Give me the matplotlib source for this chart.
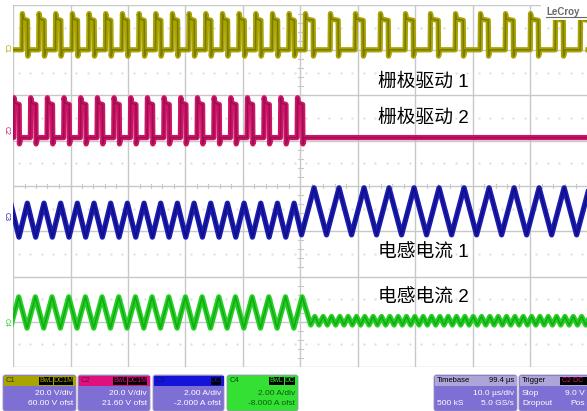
import matplotlib
matplotlib.use("Agg")
import matplotlib.pyplot as plt
from matplotlib.patches import FancyBboxPatch, Rectangle
import numpy as np

# ---------------- data ----------------
# time axis: 10 div x 10 us, vertical: 8 divisions (0 bottom .. 8 top)
t_total = 100.0
t_change = 50.0

# gate drive 1 (C1): [before, after]
c1_period = [2.90, 4.35]
c1_width = [0.95, 1.40]
c1_first = [1.57, 50.80]
c1_low, c1_high = 7.01, 7.69

# gate drive 2 (C2): pulses only before the change
c2_period = 2.90
c2_width = 0.95
c2_first = 0.12
c2_last = 49.42
c2_low, c2_high = 5.07, 5.83

# inductor current 1 (C3)
c3_peak_first = [-0.41, 52.35]
c3_period = [2.90, 4.35]
c3_peak = [3.62, 3.96]
c3_trough = [2.87, 2.92]

# inductor current 2 (C4)
c4_peak_first = 0.99
c4_last_peak = 50.29
c4_period = [2.90, 1.45]
c4_peak = [1.55, 1.116]
c4_trough = [0.86, 0.928]

labels = ["栅极驱动 1", "栅极驱动 2", "电感电流 1", "电感电流 2"]
label_y = [82, 118, 253, 298]          # pixel rows of the labels

colors = {"C1": "#a8a400", "C2": "#cf1468", "C3": "#1c1cb4", "C4": "#25d025"}

# ---------------- helpers ----------------
def pulses(starts, width, low, high, end, overshoot=0.12, dip=0.14):
    xs, ys = [0.0], [low]
    for r in starts:
        xs += [r, r + 0.06, r + 0.22, r + width, r + width + 0.05, r + width + 0.3]
        ys += [low, high + overshoot, high, high - 0.03, low - dip, low]
    xs.append(end); ys.append(low)
    return np.array(xs), np.array(ys)

def arange_list(first, period, stop):
    out = []
    v = first
    while v <= stop + 1e-9:
        out.append(v)
        v += period
    return out

# C1
c1_starts = arange_list(c1_first[0], c1_period[0], t_change) + \
            arange_list(c1_first[1], c1_period[1], t_total)
xs, ys = [0.0], [c1_low]
for r in c1_starts:
    w = c1_width[0] if r < t_change else c1_width[1]
    px, py = pulses([r], w, c1_low, c1_high, r + w + 0.3)
    xs += list(px[1:-1]); ys += list(py[1:-1])
xs.append(t_total); ys.append(c1_low)
c1x, c1y = np.array(xs), np.array(ys)

# C2
c2_starts = arange_list(c2_first, c2_period, c2_last)
c2x, c2y = pulses(c2_starts, c2_width, c2_low, c2_high, t_total)

# C3 triangle
c3x, c3y = [], []
for p in arange_list(c3_peak_first[0], c3_period[0], t_change):
    c3x += [p, p + c3_period[0] / 2]
    c3y += [c3_peak[0], c3_trough[0]]
c3x[-1] = c3_peak_first[1] - c3_period[1] / 2
c3y[-1] = c3_trough[1]
for p in arange_list(c3_peak_first[1], c3_period[1], t_total + 3):
    c3x += [p, p + c3_period[1] / 2]
    c3y += [c3_peak[1], c3_trough[1]]
c3x, c3y = np.array(c3x), np.array(c3y)

# C4 triangle then small ripple
c4x, c4y = [], []
for p in arange_list(c4_peak_first - c4_period[0], c4_period[0], c4_last_peak):
    c4x += [p, p + c4_period[0] / 2]
    c4y += [c4_peak[0], c4_trough[0]]
c4x[-1] = c4_last_peak + 1.5
c4y[-1] = c4_trough[1]
for p in arange_list(c4_last_peak + 2.2, c4_period[1], t_total + 2):
    c4x += [p, p + c4_period[1] / 2]
    c4y += [c4_peak[1], c4_trough[1]]
c4x, c4y = np.array(c4x), np.array(c4y)

# ---------------- figure ----------------
W, H = 587, 411
fig = plt.figure(figsize=(W / 100, H / 100), dpi=100)
fig.patch.set_facecolor("white")

x0, x1, y0, y1 = 13, 588, 5, 367
ax = fig.add_axes([x0 / W, 1 - y1 / H, (x1 - x0) / W, (y1 - y0) / H])
ax.set_xlim(0, t_total)
ax.set_ylim(0, 8)
ax.set_facecolor("white")
for s in ax.spines.values():
    s.set_visible(False)
ax.set_xticks([]); ax.set_yticks([])

grid_c = "#c8c8c8"
for gx in np.arange(0, 101, 10):
    ax.axvline(gx, color=grid_c, lw=1.0, zorder=1)
for gy in np.arange(0, 9, 1):
    ax.axhline(gy, color=grid_c, lw=1.0, zorder=1)
# minor ticks on the centre axes
for mx in np.arange(0, 100, 2):
    ax.plot([mx, mx], [3.95, 4.05], color=grid_c, lw=0.8, zorder=1)
for my in np.arange(0, 8, 0.2):
    ax.plot([49.6, 50.4], [my, my], color=grid_c, lw=0.8, zorder=1)
# faint dotted rows
for gy in np.arange(0.5, 8, 1):
    ax.plot(np.arange(1, 100, 2), np.full(50, gy), ls="none", marker=".",
            ms=1.2, color="#dcdcdc", zorder=1)

def trace(x, y, col, dark):
    ax.plot(x, y, color=col, lw=3.8, solid_joinstyle="round", zorder=3)
    ax.plot(x, y, color=dark, lw=1.1, zorder=4, alpha=0.75)

trace(c1x, c1y, colors["C1"], "#6e6a00")
trace(c2x, c2y, colors["C2"], "#8c0c48")
trace(c3x, c3y, colors["C3"], "#0a0a70")
trace(c4x, c4y, colors["C4"], "#129a12")

# text labels
for lab, py in zip(labels, label_y):
    ax.text((378 - x0) / (x1 - x0) * t_total, 8 - (py - y0) / (y1 - y0) * 8, lab,
            fontsize=13.5, family=["Liberation Sans", "Noto Sans CJK SC"],
            va="center", ha="left", color="black", zorder=6)

# ---------------- overlay in pixel coordinates ----------------
ov = fig.add_axes([0, 0, 1, 1])
ov.set_xlim(0, W); ov.set_ylim(H, 0)
ov.axis("off")
ov.patch.set_alpha(0)

# LeCroy logo
ov.add_patch(Rectangle((541, 5), 46, 15, facecolor="white", edgecolor="none", zorder=5))
ov.text(546, 12, "LeCroy", fontsize=7, color="#6a6a6a", fontweight="bold",
        va="center", ha="left", family="Liberation Sans", zorder=6)
ov.plot([546, 587], [17.5, 17.5], color="#6a6a6a", lw=0.8, zorder=6)

# channel markers at left edge
for name, py in [("C1", 48), ("C2", 130), ("C3", 216), ("C4", 322)]:
    ov.text(6, py, name, rotation=-90, fontsize=5, color=colors[name],
            va="center", ha="center", family="Liberation Sans")

purple = "#7d6fd3"
fam = "Liberation Sans"

def panel(xa, xb, head_col, head_txt, head_txt_col, badges, lines, body_col=purple,
          body_txt_col="white", badge_txt_col=None):
    ya, yb, yh = 375, 411, 385
    ov.add_patch(FancyBboxPatch((xa, ya), xb - xa, yb - ya,
                                boxstyle="round,pad=0,rounding_size=2.5",
                                facecolor=body_col, edgecolor="#9a94b8", lw=0.6))
    ov.add_patch(Rectangle((xa + 0.5, ya + 0.5), xb - xa - 1, yh - ya,
                           facecolor=head_col, edgecolor="none"))
    ov.text(xa + 3, ya + 5.5, head_txt, fontsize=5.5, color=head_txt_col,
            va="center", ha="left", family=fam)
    bx = xb - 3
    for b in reversed(badges):
        wb = 4.2 * len(b) + 2
        ov.add_patch(Rectangle((bx - wb, ya + 1.5), wb, 8, facecolor="black",
                               edgecolor="none"))
        ov.text(bx - wb / 2, ya + 5.5, b, fontsize=5, color=badge_txt_col or head_col,
                va="center", ha="center", family=fam)
        bx -= wb + 1
    for i, ln in enumerate(lines):
        if isinstance(ln, tuple):
            ov.text(xa + 3, 393 + 10 * i, ln[0], fontsize=6, color=body_txt_col,
                    va="center", ha="left", family=fam)
            ov.text(xb - 3, 393 + 10 * i, ln[1], fontsize=6, color=body_txt_col,
                    va="center", ha="right", family=fam)
        else:
            ov.text(xb - 3, 393 + 10 * i, ln, fontsize=6, color=body_txt_col,
                    va="center", ha="right", family=fam)

panel(3, 76, colors["C1"], "C1", "#3a3800", ["BwL", "DC1M"],
      ["20.0 V/div", "60.00 V ofst"])
panel(78, 150, "#e0107c", "C2", "#70083c", ["BwL", "DC1M"],
      ["20.0 V/div", "21.60 V ofst"])
panel(153, 224, "#1414d8", "C3", "#0c0c80", ["DC"],
      ["2.00 A/div", "-2.000 A ofst"], badge_txt_col="#1414d8")
panel(227, 298, "#33e033", "C4", "#0a4a0a", ["BwL", "DC"],
      ["2.00 A/div", "-8.000 A ofst"], body_col="#33e033", body_txt_col="#0d5a0d")
panel(434, 517, "#aca6d8", "Timebase", "black", [],
      [("", "10.0 µs/div"), ("500 kS", "5.0 GS/s")])
ov.text(514, 380.5, "99.4 µs", fontsize=5.5, color="black", va="center", ha="right",
        family=fam)
panel(519, 600, "#aca6d8", "Trigger", "black", [],
      [("Stop", ""), ("Dropout", "")])
ov.add_patch(Rectangle((560, 376.5), 30, 8, facecolor="black", edgecolor="none"))
ov.text(562, 380.5, "C2 DC", fontsize=5, color="#e0107c", va="center", ha="left",
        family=fam)
ov.text(585, 393, "9.0 V", fontsize=6, color="white", va="center", ha="right", family=fam)
ov.text(585, 403, "Pos", fontsize=6, color="white", va="center", ha="right", family=fam)

fig.savefig("out.png", dpi=100, facecolor="white")
